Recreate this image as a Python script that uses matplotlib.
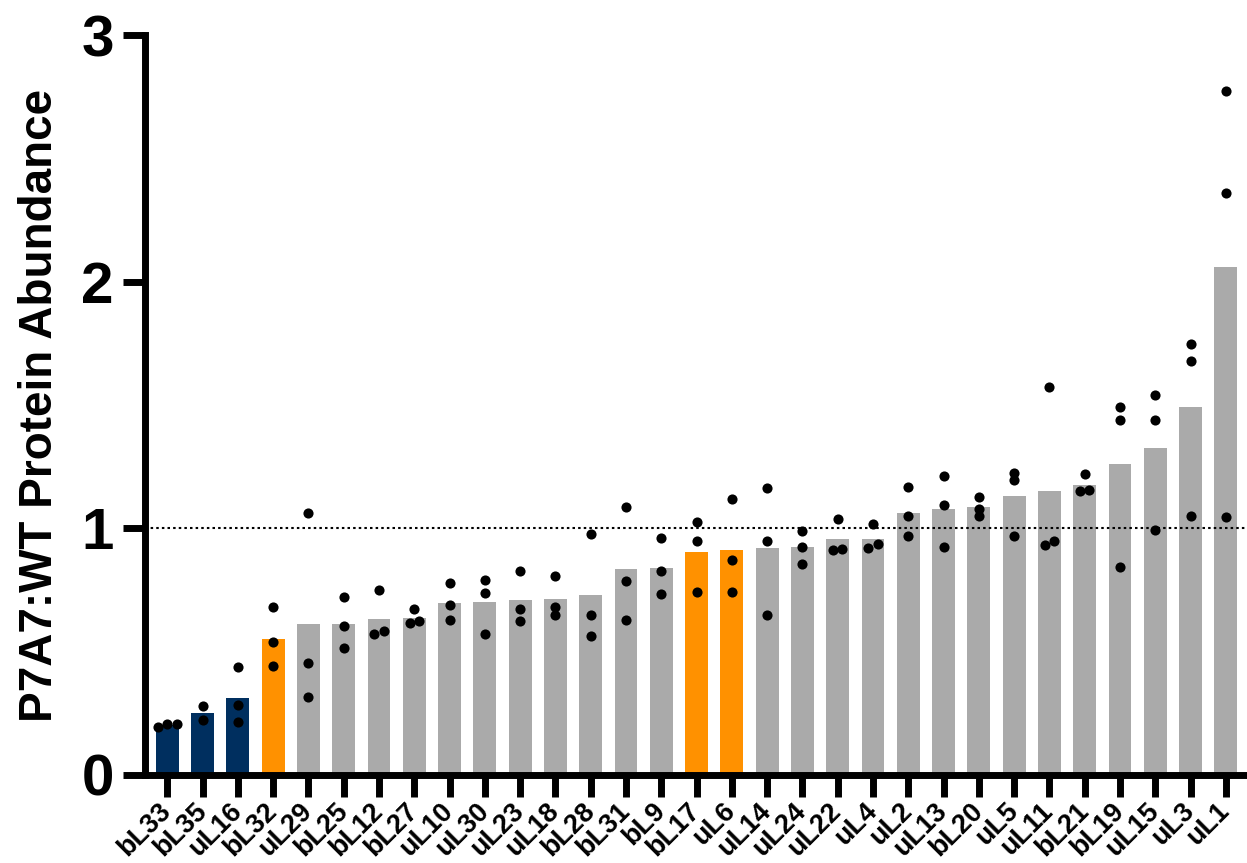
import numpy as np
import matplotlib
matplotlib.use("Agg")
import matplotlib.pyplot as plt

plt.rcParams['font.family'] = ['Liberation Sans', 'DejaVu Sans']
plt.rcParams['font.weight'] = 'bold'

proteins = ["bL33", "bL35", "uL16", "bL32", "uL29", "bL25", "bL12", "bL27", "uL10", "uL30",
            "uL23", "uL18", "bL28", "bL31", "bL9", "bL17", "uL6", "uL14", "uL24", "uL22",
            "uL4", "uL2", "uL13", "bL20", "uL5", "uL11", "bL21", "bL19", "uL15", "uL3", "uL1"]

# mean ratio (bar height)
means = [0.202, 0.251, 0.312, 0.553, 0.612, 0.613, 0.634, 0.638, 0.698, 0.700,
         0.708, 0.712, 0.730, 0.834, 0.840, 0.906, 0.912, 0.921, 0.923, 0.955,
         0.958, 1.061, 1.077, 1.085, 1.130, 1.150, 1.176, 1.259, 1.325, 1.492, 2.059]

# individual replicates
replicates = [
    [0.193, 0.207, 0.207], [0.224, 0.279], [0.213, 0.284, 0.438], [0.441, 0.538, 0.680],
    [0.318, 0.454, 1.064], [0.514, 0.605, 0.720], [0.571, 0.582, 0.748], [0.616, 0.624, 0.673],
    [0.629, 0.689, 0.777], [0.571, 0.736, 0.792], [0.626, 0.671, 0.827], [0.650, 0.680, 0.807],
    [0.562, 0.649, 0.978], [0.629, 0.786, 1.086], [0.733, 0.827, 0.960], [0.741, 0.950, 1.026],
    [0.743, 0.873, 1.120], [0.648, 0.950, 1.165], [0.857, 0.924, 0.989], [0.911, 0.917, 1.038],
    [0.921, 0.936, 1.016], [0.969, 1.048, 1.167], [0.924, 1.095, 1.211], [1.050, 1.078, 1.128],
    [0.969, 1.196, 1.224], [0.931, 0.948, 1.571], [1.151, 1.156, 1.222], [0.842, 1.441, 1.493],
    [0.995, 1.440, 1.540], [1.050, 1.678, 1.748], [1.044, 2.360, 2.773],
]

groups = ["low"] * 3 + ["mid"] + ["rest"] * 11 + ["mid"] * 2 + ["rest"] * 14
palette = {"low": "#002f5f", "mid": "#ff9100", "rest": "#aaaaaa"}


def spread(vals, thr=0.025, step=0.27):
    # side-by-side offsets for replicates that would overlap
    vals = sorted(vals)
    offs = [0.0] * len(vals)
    clusters, cur = [], [0]
    for i in range(1, len(vals)):
        if vals[i] - vals[i - 1] < thr:
            cur.append(i)
        else:
            clusters.append(cur)
            cur = [i]
    clusters.append(cur)
    for c in clusters:
        n = len(c)
        for k, i in enumerate(c):
            offs[i] = (k - (n - 1) / 2) * step
    return vals, offs


fig = plt.figure(figsize=(12.47, 8.63), dpi=100)
ax = fig.add_axes([0.1159, 0.102, 0.8841, 0.8574])

x = np.arange(len(proteins))
ax.bar(x, means, width=0.65, color=[palette[g] for g in groups], zorder=1)

for i, reps in enumerate(replicates):
    vals, offs = spread(reps)
    ax.plot(i + np.array(offs), vals, 'o', color='black', markersize=7.3,
            markeredgewidth=0, zorder=3, clip_on=False)

ax.axhline(1.0, color='black', lw=1.5, ls=(0, (1.2, 1.5)), zorder=2)

ax.set_xlim(-0.646, 30.6)
ax.set_ylim(0, 3)
ax.set_yticks([0, 1, 2, 3])
ax.set_yticklabels(["0", "1", "2", "3"], fontsize=42, fontweight='bold')
ax.set_xticks(x)
ax.set_xticklabels(proteins, rotation=45, ha='right', va='center',
                   rotation_mode='anchor', fontsize=19.5, fontweight='bold')

for s in ["top", "right"]:
    ax.spines[s].set_visible(False)
for s in ["left", "bottom"]:
    ax.spines[s].set_linewidth(5)
    ax.spines[s].set_zorder(4)
    ax.spines[s].set_capstyle('projecting')
ax.tick_params(axis='both', length=16, width=5, color='black')
ax.tick_params(axis='y', pad=6)
ax.tick_params(axis='x', pad=7)

ax.set_ylabel("P7A7:WT Protein Abundance", fontsize=33, fontweight='bold', labelpad=14)

fig.savefig("out.png", dpi=100)
